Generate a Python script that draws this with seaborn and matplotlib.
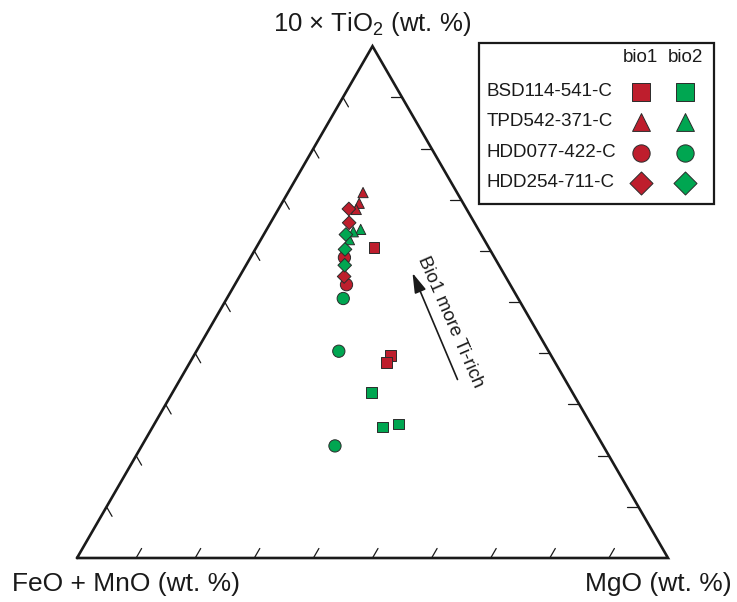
import numpy as np
import pandas as pd
import matplotlib
matplotlib.use("Agg")
import matplotlib.pyplot as plt
import seaborn as sns

# Biotite compositions, normalised to FeO+MnO / MgO / 10*TiO2 (sum = 100)
sample = (["TPD542-371-C"] * 6 + ["HDD254-711-C"] * 6 +
          ["HDD077-422-C"] * 5 + ["BSD114-541-C"] * 6)
phase = (["bio1"] * 3 + ["bio2"] * 3 + ["bio1"] * 3 + ["bio2"] * 3 +
         ["bio1"] * 2 + ["bio2"] * 3 + ["bio1"] * 3 + ["bio2"] * 3)
feo_mno = [15.9, 17.6, 18.7, 19.9, 21.4, 22.8,
           19.9, 21.2, 27.3, 22.9, 24.5, 26.1,
           25.4, 27.7, 29.6, 35.5, 45.4,
           19.4, 27.2, 28.5, 34.0, 32.5, 35.5]
mgo = [12.7, 13.1, 13.2, 15.9, 14.9, 15.0,
       11.9, 13.3, 17.7, 13.9, 15.2, 16.7,
       15.9, 18.9, 19.7, 24.1, 32.7,
       19.9, 33.2, 33.3, 33.7, 41.3, 38.9]
tio2x10 = [71.4, 69.3, 68.1, 64.2, 63.8, 62.2,
           68.2, 65.5, 55.0, 63.2, 60.3, 57.2,
           58.7, 53.4, 50.7, 40.4, 21.9,
           60.7, 39.6, 38.2, 32.3, 26.2, 25.6]

legend_order = ["BSD114-541-C", "TPD542-371-C", "HDD077-422-C", "HDD254-711-C"]
draw_order = ["BSD114-541-C", "TPD542-371-C", "HDD077-422-C", "HDD254-711-C"]
phase_names = ["bio1", "bio2"]

RED = "#BE1E2D"
GREEN = "#00A651"
palette = {"bio1": RED, "bio2": GREEN}
markers = {"BSD114-541-C": "s", "TPD542-371-C": "^",
           "HDD077-422-C": "o", "HDD254-711-C": "D"}
point_size = {"BSD114-541-C": 58, "TPD542-371-C": 54,
              "HDD077-422-C": 78, "HDD254-711-C": 48}
legend_size = {"BSD114-541-C": 150, "TPD542-371-C": 165,
               "HDD077-422-C": 155, "HDD254-711-C": 138}

sns.set_style("white")
plt.rcParams["font.family"] = ["Liberation Sans", "DejaVu Sans"]
plt.rcParams["mathtext.fontset"] = "custom"
plt.rcParams["mathtext.rm"] = "Liberation Sans"
plt.rcParams["mathtext.it"] = "Liberation Sans:italic"

df = pd.DataFrame({"sample": sample, "phase": phase,
                   "feo": feo_mno, "mgo": mgo, "ti": tio2x10})
total = df["feo"] + df["mgo"] + df["ti"]
df["x"] = (df["mgo"] + df["ti"] / 2) / total
df["y"] = (df["ti"] / total) * np.sqrt(3) / 2

W, H = 737, 602
S = 591.0            # pixels per unit triangle side
X0, Y0 = 77.0, 558.0  # position of the FeO+MnO apex

fig = plt.figure(figsize=(W / 100, H / 100), dpi=100)
ax = fig.add_axes([0, 0, 1, 1])
ax.set_xlim(-X0 / S, (W - X0) / S)
ax.set_ylim(-(H - Y0) / S, Y0 / S)
ax.set_axis_off()

INK = "#1a1a1a"
h = np.sqrt(3) / 2
# triangle frame
ax.plot([0, 1, 0.5, 0], [0, 0, h, 0], color=INK, lw=1.9,
        solid_joinstyle="miter", zorder=2)

# 10 % ticks on each side, pointing inward
L = 11 / S
c60, s60 = 0.5, h
for i in range(1, 10):
    f = i / 10
    ax.plot([f, f + L * c60], [0, L * s60], color=INK, lw=0.9)
    lx, ly = f / 2, f * h
    ax.plot([lx, lx + L * c60], [ly, ly - L * s60], color=INK, lw=0.9)
    rx, ry = 1 - f / 2, f * h
    ax.plot([rx, rx - L], [ry, ry], color=INK, lw=0.9)

# data points
for name in draw_order:
    sub = df[df["sample"] == name]
    sns.scatterplot(data=sub, x="x", y="y", hue="phase", palette=palette,
                    marker=markers[name], s=point_size[name],
                    edgecolor="#2b2b2b", linewidth=0.7, legend=False,
                    ax=ax, zorder=3)

# apex labels
ax.text(0.5, (Y0 - 31.5) / S, "10 × TiO$_2$ (wt. %)", ha="center",
        va="baseline", fontsize=18.5, color=INK)
ax.text((12 - X0) / S, (Y0 - 591) / S, "FeO + MnO (wt. %)", ha="left",
        va="baseline", fontsize=19, color=INK)
ax.text((732 - X0) / S, (Y0 - 591) / S, "MgO (wt. %)", ha="right",
        va="baseline", fontsize=19, color=INK)

# trend arrow
tail = ((457.5 - X0) / S, (Y0 - 379.5) / S)
tip = ((412.5 - X0) / S, (Y0 - 273.0) / S)
ax.annotate("", xy=tip, xytext=tail,
            arrowprops=dict(arrowstyle="-|>,head_length=0.6,head_width=0.18",
                            mutation_scale=20, color=INK, lw=1.2,
                            shrinkA=0, shrinkB=0))
ax.text((450 - X0) / S, (Y0 - 322) / S, "Bio1 more Ti-rich", rotation=-66.5,
        rotation_mode="anchor", ha="center", va="center", fontsize=13.5,
        color=INK)

# legend table, placed in figure pixel coordinates
def fx(px):
    return px / W


def fy(py):
    return 1 - py / H


ft = fig.transFigure
box = plt.Rectangle((fx(479), fy(204)), fx(714) - fx(479), fy(43) - fy(204),
                    transform=ft, facecolor="white", edgecolor=INK, lw=1.6,
                    zorder=5, clip_on=False)
ax.add_patch(box)
col_x = {"bio1": 640.5, "bio2": 685}
for p in phase_names:
    ax.text(fx(col_x[p]), fy(58), p, transform=ft, ha="center", va="center",
            fontsize=13.5, color=INK, zorder=6)
row_y = [92, 122, 152.5, 183]
for name, ry in zip(legend_order, row_y):
    ax.text(fx(487), fy(ry), name, transform=ft, ha="left", va="center",
            fontsize=13.5, color=INK, zorder=6)
    for p in phase_names:
        ax.scatter([fx(col_x[p])], [fy(ry)], transform=ft,
                   marker=markers[name], s=legend_size[name],
                   color=palette[p], edgecolor="#2b2b2b", linewidth=0.7,
                   zorder=7, clip_on=False)

fig.savefig("out.png", dpi=100)
